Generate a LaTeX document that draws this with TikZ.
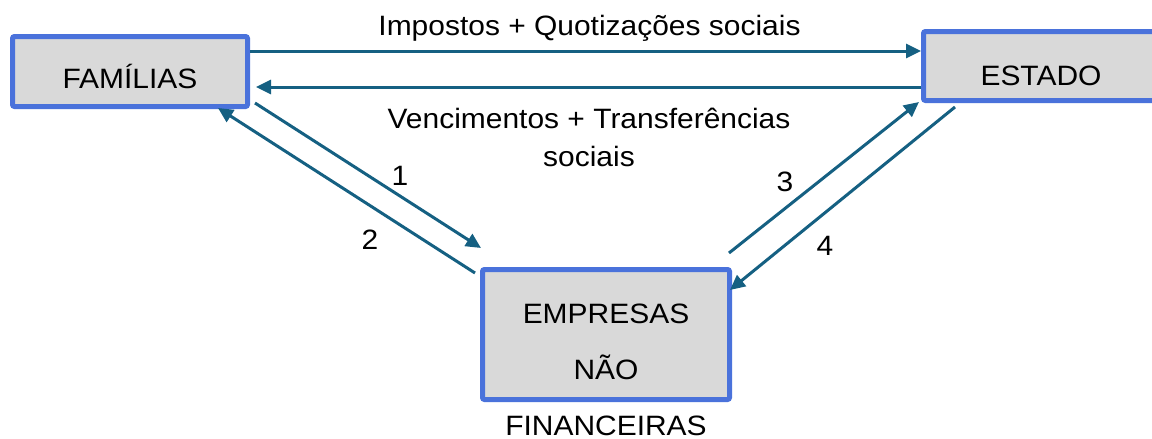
\documentclass[tikz,border=0pt]{standalone}
\usepackage{fontspec}
\setmainfont[FakeStretch=1.07]{Liberation Sans}
\usepackage{tikz}
\usetikzlibrary{arrows.meta}

\definecolor{setaazul}{HTML}{156082}
\definecolor{bordaazul}{HTML}{4A72DB}
\definecolor{fundocinza}{HTML}{D9D9D9}

\tikzset{
  caixa/.style={draw=bordaazul, fill=fundocinza, line width=5pt, rounded corners=2pt,
    inner sep=0pt, font=\fontsize{28}{56}\selectfont},
  seta/.style={draw=setaazul, line width=3pt, -{Triangle[length=15pt,width=14pt]}},
  rotulo/.style={anchor=base, inner sep=0pt, font=\fontsize{28}{38}\selectfont}
}

\begin{document}
\begin{tikzpicture}[x=1pt,y=-1pt]
    \useasboundingbox (0,0) rectangle (1152,439);

    % draw boxes
    \node[caixa, minimum width=235pt, text height=51.5pt, text depth=18.5pt] (familias) at (130,71.5) {FAMÍLIAS};
    \node[caixa, minimum width=235pt, text height=53.5pt, text depth=15.5pt] (estado) at (1041,66) {ESTADO};
    \node[caixa, minimum width=247pt, text height=53.5pt, text depth=76.5pt] (empresas) at (606,334.5)
        {\begin{tabular}[t]{@{}c@{}}EMPRESAS\\NÃO\\FINANCEIRAS\end{tabular}};

    % draw arrows
    \draw[seta] ([yshift=20.5pt]familias.east) -- ([yshift=15pt]estado.west);
    \draw[seta] ([yshift=-21pt]estado.west) -- ([xshift=6pt,yshift=-15.5pt]familias.east);
    \draw[seta] ([xshift=5pt,yshift=6pt]familias.south east) -- ([xshift=1pt,yshift=19pt]empresas.north west);
    \draw[seta] ([xshift=-5pt,yshift=-6pt]empresas.north west) -- ([xshift=-32pt,yshift=1pt]familias.south east);
    \draw[seta] ([xshift=-3pt,yshift=14pt]empresas.north east) -- ([xshift=-2pt,yshift=1pt]estado.south west);
    \draw[seta] ([xshift=34pt,yshift=-4pt]estado.south west) -- ([xshift=-2pt,yshift=-23pt]empresas.north east);

    % draw labels
    \node[rotulo] (impostos) at (589.5,35) {Impostos + Quotizações sociais};
    \node[rotulo] (vencimentos) at (589,128)
        {\begin{tabular}[t]{@{}c@{}}Vencimentos + Transferências\\sociais\end{tabular}};
    \node[rotulo] (um) at (400,185) {1};
    \node[rotulo] (dois) at (370,249) {2};
    \node[rotulo] (tres) at (785,191) {3};
    \node[rotulo] (quatro) at (825,255) {4};

\end{tikzpicture}
\end{document}
